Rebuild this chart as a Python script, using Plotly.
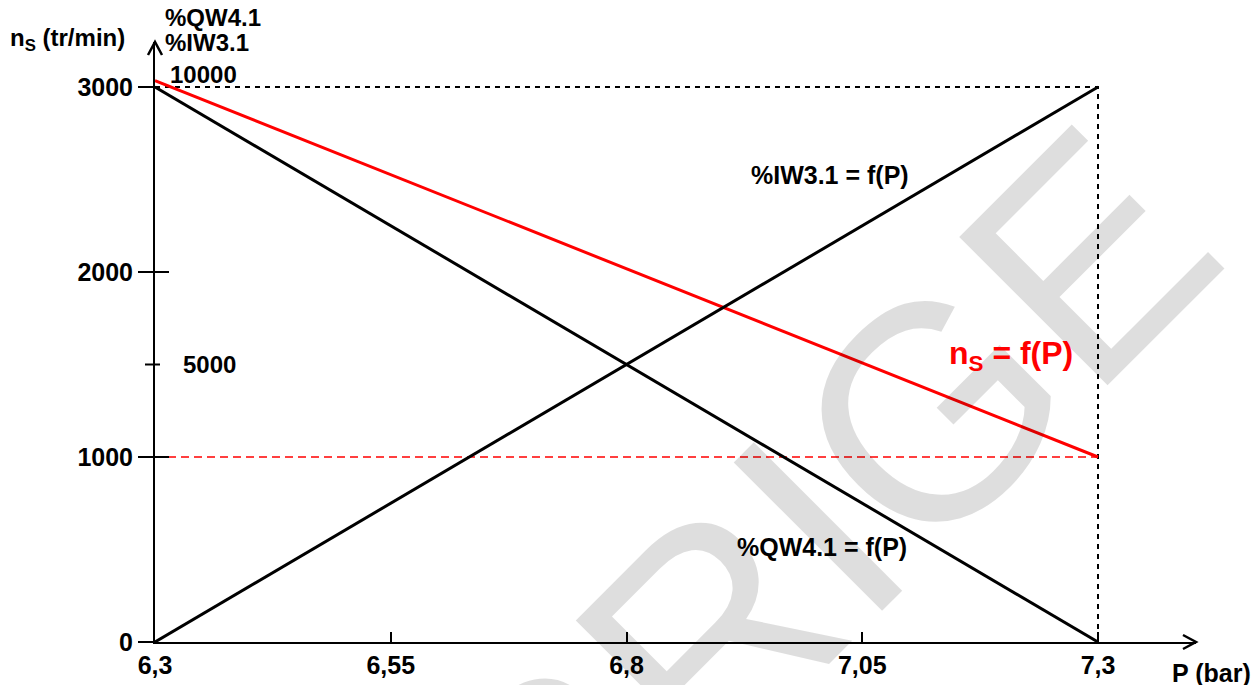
import plotly.graph_objects as go

# ---------------- data ----------------
P = [6.3, 7.3]                       # pressure (bar)
ns = [3035, 1000]                    # n_S (tr/min) = f(P)
qw41 = [10000, 0]                    # %QW4.1 = f(P)
iw31 = [0, 10000]                    # %IW3.1 = f(P)
ns_max_ref = 3000                    # reference level (dotted)
P_ticks = [6.3, 6.55, 6.8, 7.05, 7.3]
P_tick_text = ["6,3", "6,55", "6,8", "7,05", "7,3"]
ns_ticks = [0, 1000, 2000, 3000]
ns_tick_text = ["0", "1000", "2000", "3000"]
word_ticks = [5000]                  # secondary scale tick
word_max = 10000                     # secondary scale full range (== 3000 tr/min)

# ---------------- layout geometry ----------------
OFF = 8                              # page body margin
W, H = 1260 - OFF, 685 - OFF
L, R, T, B = 155 - OFF, 1196 - OFF, 42 - OFF, 642 - OFF
px_per_bar = 943.0
px_per_rpm = 0.185
x_max = 6.3 + (R - L) / px_per_bar
y_max = (B - T) / px_per_rpm
y2_max = y_max * word_max / ns_max_ref

def paper_x(p):
    return (p - OFF - L) / (R - L)

def paper_y(p):
    return (B - (p - OFF)) / (B - T)

FONT = "Liberation Sans, Arial, sans-serif"

fig = go.Figure()

# dotted reference lines at 3000 / 7.3
fig.add_trace(go.Scatter(x=[P[0], P[1], P[1]], y=[ns_max_ref, ns_max_ref, 0],
                         mode="lines", line=dict(color="black", width=2, dash="5px,5px"),
                         hoverinfo="skip", showlegend=False))
# red dashed at final ns
fig.add_trace(go.Scatter(x=P, y=[ns[-1], ns[-1]], mode="lines",
                         line=dict(color="#ff0000", width=1.6, dash="8px,5px"),
                         hoverinfo="skip", showlegend=False))
# black lines on secondary scale
fig.add_trace(go.Scatter(x=P, y=qw41, yaxis="y2", mode="lines",
                         line=dict(color="black", width=3), showlegend=False))
fig.add_trace(go.Scatter(x=P, y=iw31, yaxis="y2", mode="lines",
                         line=dict(color="black", width=3), showlegend=False))
# red ns line
fig.add_trace(go.Scatter(x=P, y=ns, mode="lines",
                         line=dict(color="#ff0000", width=3), showlegend=False))

shapes = []
# y ticks crossing to the right of the axis
for v in ns_ticks[1:3]:
    shapes.append(dict(type="line", xref="paper", yref="paper", xsizemode="pixel", xanchor=0,
                       x0=0, x1=14, y0=v / y_max, y1=v / y_max,
                       line=dict(color="black", width=2)))
# secondary tick (5000)
for v in word_ticks:
    shapes.append(dict(type="line", xref="paper", yref="paper", xsizemode="pixel", xanchor=0,
                       x0=-10, x1=5, y0=v / y2_max, y1=v / y2_max,
                       line=dict(color="black", width=2)))
# arrow heads
shapes.append(dict(type="path", xref="paper", yref="paper", xsizemode="pixel", ysizemode="pixel",
                   xanchor=1, yanchor=0, path="M -13,7 L 0,0 L -13,-7",
                   line=dict(color="black", width=2.5)))
shapes.append(dict(type="path", xref="paper", yref="paper", xsizemode="pixel", ysizemode="pixel",
                   xanchor=0, yanchor=1, path="M -7,-13 L 0,0 L 7,-13",
                   line=dict(color="black", width=2.5)))

ann = []
# watermark
ann.append(dict(text="CORRIGE", xref="paper", yref="paper", x=paper_x(655), y=paper_y(688),
                showarrow=False, textangle=-45, xanchor="center", yanchor="middle",
                font=dict(family=FONT, size=305, color="rgba(0,0,0,0.13)")))

def lab(text, xp, yp, xanchor="left", size=25, color="black"):
    ann.append(dict(text=text, xref="paper", yref="paper", x=paper_x(xp), y=paper_y(yp),
                    xanchor=xanchor, yanchor="middle", showarrow=False,
                    font=dict(family=FONT, size=size, color=color, weight="bold")))

lab("%QW4.1", 163, 18, size=24)
lab("%IW3.1", 163, 42, size=24)
lab("10000", 168, 74, size=24)
lab("5000", 181, 364, size=24)
lab("n<sub>S</sub> (tr/min)", 8, 40, size=24)
lab("P (bar)", 1170, 673)
lab("%IW3.1 = f(P)", 830, 175, xanchor="center", size=25)
lab("%QW4.1 = f(P)", 822, 547, xanchor="center", size=25)
lab("n<sub>S</sub> = f(P)", 1011, 355, xanchor="center", size=32, color="#ff0000")

fig.update_layout(
    width=W, height=H,
    margin=dict(l=L, r=W - R, t=T, b=H - B, pad=0, autoexpand=False),
    paper_bgcolor="white", plot_bgcolor="white",
    showlegend=False,
    xaxis=dict(range=[P[0], x_max], showgrid=False, zeroline=False, automargin=False,
               showline=True, linecolor="black", linewidth=2,
               ticks="inside", ticklen=10, tickwidth=2, tickcolor="black",
               tickvals=P_ticks, ticktext=P_tick_text,
               tickfont=dict(family=FONT, size=25, color="black", weight="bold")),
    yaxis=dict(range=[0, y_max], showgrid=False, zeroline=False, automargin=False,
               showline=True, linecolor="black", linewidth=2,
               ticks="outside", ticklen=15, tickwidth=2, tickcolor="black",
               tickvals=ns_ticks, ticktext=ns_tick_text,
               tickfont=dict(family=FONT, size=25, color="black", weight="bold")),
    yaxis2=dict(range=[0, y2_max], overlaying="y", visible=False),
    shapes=shapes,
    annotations=ann,
    font=dict(family=FONT),
)

fig.write_html("out.html")
